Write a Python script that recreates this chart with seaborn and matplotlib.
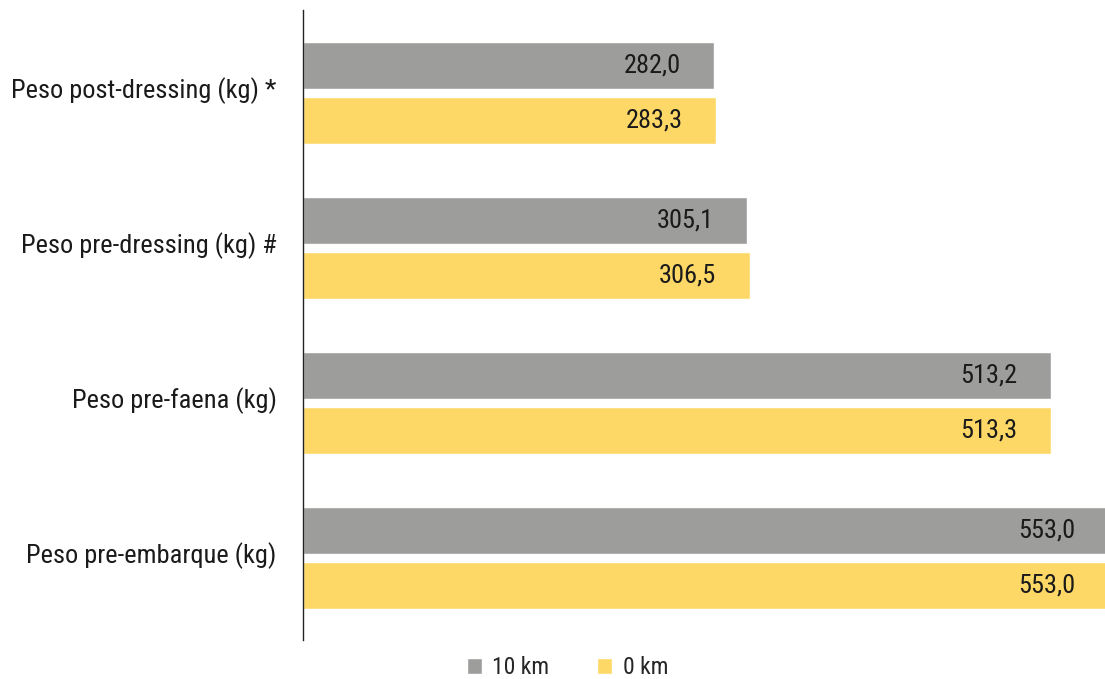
import matplotlib
matplotlib.use("Agg")
import matplotlib.pyplot as plt
import matplotlib.transforms as mtransforms
import seaborn as sns
import pandas as pd
from matplotlib.patches import Patch

categories = ["Peso post-dressing (kg) *", "Peso pre-dressing (kg) #",
              "Peso pre-faena (kg)", "Peso pre-embarque (kg)"]
series_names = ["10 km", "0 km"]
vals_10km = [282.0, 305.1, 513.2, 553.0]
vals_0km = [283.3, 306.5, 513.3, 553.0]
colors = ["#9d9d9c", "#fdd867"]

sns.set_style("white")
plt.rcParams['font.family'] = ['Roboto Condensed', 'DejaVu Sans']
plt.rcParams['font.weight'] = 'normal'

rows = []
for c, a, b in zip(categories, vals_10km, vals_0km):
    rows.append({"cat": c, "serie": series_names[0], "val": a})
    rows.append({"cat": c, "serie": series_names[1], "val": b})
df = pd.DataFrame(rows)

fig = plt.figure(figsize=(11.05, 6.79), dpi=100)
ax = fig.add_axes([303/1105, 1 - 640/679, (1105-303)/1105, (640-10)/679])

sns.barplot(data=df, y="cat", x="val", hue="serie", order=categories,
            hue_order=series_names, palette=colors, orient="h",
            width=0.71, gap=0.146, ax=ax, legend=False, saturation=1)

for cont in ax.containers:
    labels = [f"{v:.1f}".replace(".", ",") for v in cont.datavalues]
    texts = ax.bar_label(cont, labels=labels, label_type="edge", padding=-24,
                         fontsize=19, color="#1a1a1a")
    for t in texts:
        t.set_ha("right")
        t.set_annotation_clip(False)
        t.set_clip_on(False)

ax.set_xlim(0, 550.5)
ax.set_ylim(3.53, -0.535)
ax.set_xlabel("")
ax.set_ylabel("")
ax.set_xticks([])
ax.tick_params(axis="y", length=0, pad=19, labelsize=19, labelcolor="#1a1a1a")
offset = mtransforms.ScaledTranslation(0, 5/100, fig.dpi_scale_trans)
for lbl in ax.get_yticklabels():
    lbl.set_transform(lbl.get_transform() + offset)
for s in ["top", "right", "bottom"]:
    ax.spines[s].set_visible(False)
ax.spines["left"].set_color("#222222")
ax.spines["left"].set_linewidth(1.0)

handles = [Patch(facecolor=colors[i], label=series_names[i]) for i in range(2)]
fig.legend(handles=handles, loc="center", bbox_to_anchor=(0.5135, 1 - 668/679),
           ncol=2, frameon=False, fontsize=17, handlelength=0.65, handleheight=0.65,
           columnspacing=2.0, handletextpad=0.45)

fig.savefig("out.png", dpi=100)
